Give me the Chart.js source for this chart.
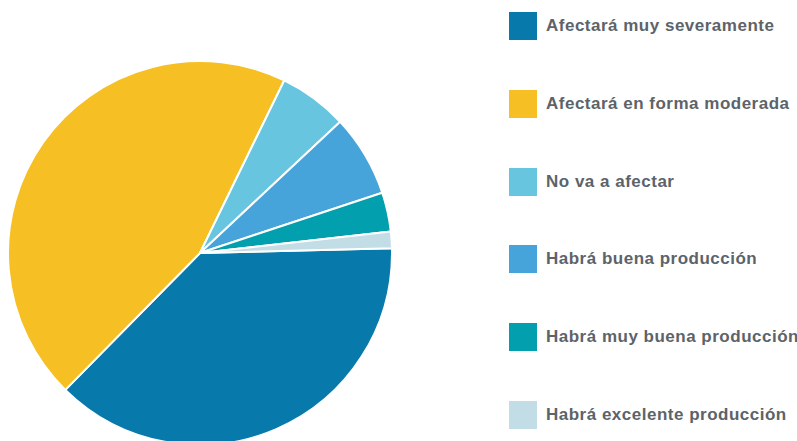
<!DOCTYPE html>
<html>
<head>
<meta charset="utf-8">
<script src="https://cdn.jsdelivr.net/npm/chart.js@4"></script>
<style>
  html, body { margin: 0; padding: 0; background: #fff; }
  body { width: 797px; height: 441px; overflow: hidden; position: relative; }
  #pie { position: absolute; left: 7px; top: 60px; }
  .legend-item { position: absolute; left: 509px; height: 28px; display: flex; align-items: center; }
  .legend-box { width: 28px; height: 28px; flex: none; }
  .legend-text {
    margin-left: 9px;
    font-family: 'Liberation Sans', Arial, sans-serif;
    font-weight: bold;
    font-size: 17px;
    letter-spacing: 0.5px;
    color: #5d6368;
    white-space: nowrap;
  }
</style>
</head>
<body>
<canvas id="pie" width="386" height="386"></canvas>
<div id="legend"></div>
<script>
// Categories, shares (percent) and colours
const labels = [
  'Afectará muy severamente',
  'Afectará en forma moderada',
  'No va a afectar',
  'Habrá buena producción',
  'Habrá muy buena producción',
  'Habrá excelente producción'
]
const shares = [37.8, 44.9, 5.8, 6.9, 3.3, 1.4]
const colors = ['#0779ab', '#f6c024', '#68c5e0', '#47a4da', '#029fae', '#c3dde6']

// Legend on the right, built from the same arrays
const legend = document.getElementById('legend')
labels.forEach((label, i) => {
  const item = document.createElement('div')
  item.className = 'legend-item'
  item.style.top = (12 + i * 77.8) + 'px'
  const box = document.createElement('span')
  box.className = 'legend-box'
  box.style.background = colors[i]
  const text = document.createElement('span')
  text.className = 'legend-text'
  text.textContent = label
  item.appendChild(box)
  item.appendChild(text)
  legend.appendChild(item)
})

const ctx = document.getElementById('pie').getContext('2d')

new Chart(ctx, {
  type: 'pie',
  data: {
    labels: labels,
    datasets: [{
      data: shares,
      backgroundColor: colors,
      borderColor: '#ffffff',
      borderWidth: 2,
      hoverOffset: 0
    }]
  },
  options: {
    responsive: false,
    animation: false,
    rotation: 88.6, // first slice starts just above 3 o'clock
    plugins: {
      legend: { display: false },
      tooltip: { enabled: false }
    }
  }
})
</script>
</body>
</html>
